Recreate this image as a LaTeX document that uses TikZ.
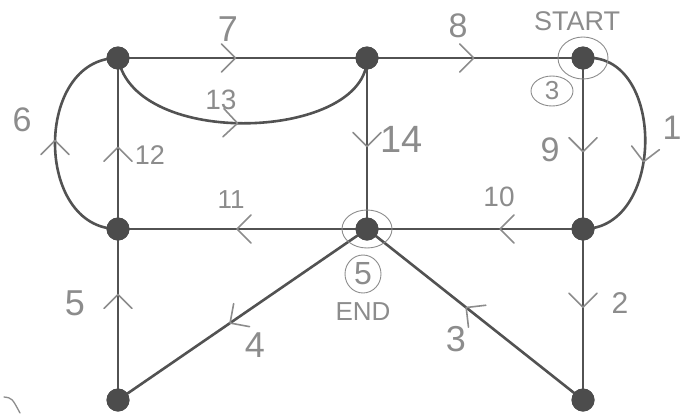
\documentclass[tikz,border=0pt]{standalone}
\usepackage{fontspec}
\setmainfont{Liberation Sans}
\usetikzlibrary{decorations.markings}
\definecolor{edgec}{HTML}{525252}
\definecolor{dotc}{HTML}{4C4C4C}
\definecolor{pencil}{HTML}{8C8C8C}
\tikzset{
  vtx/.style={circle, fill=dotc, minimum size=23pt, inner sep=0pt},
  edge/.style={draw=edgec, line width=2.6pt},
  lbl/.style={text=pencil, font=\fontsize{#1}{#1}\selectfont, inner sep=0pt},
  lbl/.default=34,
  chev/.style={postaction={decorate, decoration={markings,
    mark=at position #1 with {\draw[pencil, line width=1.6pt, line cap=round, line join=round]
      (-11pt,-14pt) -- (3pt,0pt) -- (-11pt,14pt);}}}},
  ring/.style={draw=pencil, line width=0.9pt},
}
\begin{document}
\begin{tikzpicture}[x=1pt,y=-1pt]
\useasboundingbox (0,0) rectangle (683,413);
% vertices
\node[vtx] (A) at (118,58) {};
\node[vtx] (B) at (367,58) {};
\node[vtx] (C) at (583,58) {};
\node[vtx] (D) at (118,229) {};
\node[vtx] (E) at (367,229) {};
\node[vtx] (F) at (583,229) {};
\node[vtx] (G) at (118,400) {};
\node[vtx] (H) at (583,400) {};
% edges
\draw[edge, chev=0.57] (C.center) .. controls (666,50) and (666,229) .. (F.center);
\draw[edge, chev=0.44] (F.center) -- (H.center);
\draw[edge, chev=0.53] (H.center) -- (E.center);
\draw[edge, chev=0.54] (E.center) -- (G.center);
\draw[edge, chev=0.6] (G.center) -- (D.center);
\draw[edge, chev=0.5] (D.center) .. controls (34,229) and (34,58) .. (A.center);
\draw[edge, chev=0.46] (A.center) -- (B.center);
\draw[edge, chev=0.48] (B.center) -- (C.center);
\draw[edge, chev=0.53] (C.center) -- (F.center);
\draw[edge, chev=0.37] (F.center) -- (E.center);
\draw[edge, chev=0.51] (E.center) -- (D.center);
\draw[edge, chev=0.46] (D.center) -- (A.center);
\draw[edge, chev=0.47] (A.center) .. controls (135,150) and (367,140) .. (B.center);
\draw[edge, chev=0.5] (B.center) -- (E.center);
% redraw vertices on top
\foreach \n in {A,B,C,D,E,F,G,H} \fill[dotc] (\n.center) circle (11.5pt);
% rings
\draw[ring] (C.center) ellipse (25pt and 21pt);
\draw[ring] (E.center) ellipse (25pt and 19pt);
% labels
\node[lbl=36] (l7) at (228,29) {7};
\node[lbl=34] (l8) at (458,26) {8};
\node[lbl=27] (lstart) at (577,21) {START};
\node[lbl=28] (l13) at (221,100) {13};
\node[lbl=34] (l6) at (22,120) {6};
\node[lbl=27] (l12) at (150,155) {12};
\node[lbl=38] (l14) at (402,139) {14};
\node[lbl=34] (l9) at (550,150) {9};
\node[lbl=34] (l1) at (672,128) {1};
\node[lbl=26] (l11) at (231,200) {11};
\node[lbl=28] (l10) at (499,197) {10};
\node[lbl=36] (l5) at (75,303) {5};
\node[lbl=36] (l4) at (255,345) {4};
\node[lbl=30] (l2) at (620,303) {2};
\node[lbl=36] (l3) at (456,339) {3};
\node[lbl=26] (c3) at (552,91) {3};
\draw[ring] (c3.center) ellipse (21pt and 15pt);
\node[lbl=32] (c5) at (363,274) {5};
\draw[ring] (c5.center) ellipse (18pt and 19pt);
\node[lbl=26] (lend) at (363,312) {END};
% fragment at lower left
\draw[pencil, line width=1.3pt, line cap=round] (4,397) .. controls (12,398) .. (20,413);
\end{tikzpicture}
\end{document}
